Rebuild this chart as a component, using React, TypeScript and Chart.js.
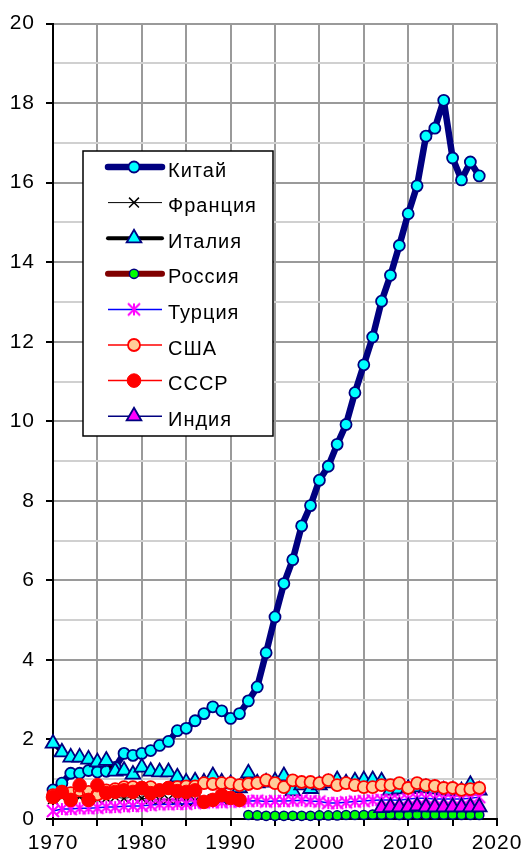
import React, { useEffect, useRef } from 'react';
import { Chart, registerables } from 'chart.js';

Chart.register(...registerables);

// ---- data ----
const chinaStart = 1970;
const chinaValues = [
  0.73, 0.9, 1.15, 1.15, 1.22, 1.18, 1.2, 1.3, 1.65, 1.6,
  1.65, 1.72, 1.85, 1.95, 2.22, 2.28, 2.47, 2.65, 2.82, 2.72,
  2.53, 2.65, 2.97, 3.32, 4.18, 5.08, 5.92, 6.52, 7.37, 7.88,
  8.52, 8.87, 9.42, 9.92, 10.72, 11.42, 12.12, 13.02, 13.67, 14.42,
  15.22, 15.92, 17.17, 17.37, 18.07, 16.62, 16.07, 16.52, 16.17,
];

const franceStart = 1970;
const franceValues = [
  0.5, 0.55, 0.5, 0.55, 0.52, 0.5, 0.52, 0.55, 0.52, 0.55,
  0.52, 0.5, 0.48, 0.5, 0.48, 0.45, 0.46, 0.48, 0.5, 0.5, 0.48,
];

const italyStart = 1970;
const italyValues = [
  1.9, 1.68, 1.55, 1.55, 1.5, 1.43, 1.47, 1.2, 1.22, 1.12,
  1.3, 1.2, 1.18, 1.18, 1.05, 0.92, 0.95, 0.92, 1.08, 0.92,
  0.88, 0.78, 1.15, 0.9, 0.92, 0.95, 1.08, 0.7, 0.85, 0.76,
  0.85, 0.9, 0.98, 0.9, 0.95, 0.98, 0.98, 0.95, 0.72, 0.75,
  0.76, 0.8, 0.78, 0.75, 0.72, 0.7, 0.7, 0.86, 0.72,
];

const russiaStart = 1992;
const russiaValues = [
  0.1, 0.09, 0.08, 0.08, 0.08, 0.08, 0.08, 0.08, 0.09, 0.09,
  0.09, 0.1, 0.1, 0.1, 0.11, 0.11, 0.11, 0.1, 0.1, 0.11,
  0.11, 0.11, 0.11, 0.11, 0.1, 0.1, 0.1,
];

const turkeyStart = 1970;
const turkeyValues = [
  0.2, 0.25, 0.25, 0.27, 0.27, 0.28, 0.3, 0.3, 0.32, 0.33,
  0.33, 0.35, 0.37, 0.37, 0.38, 0.38, 0.4, 0.42, 0.42, 0.42,
  0.44, 0.44, 0.45, 0.46, 0.44, 0.45, 0.45, 0.46, 0.47, 0.45,
  0.44, 0.4, 0.4, 0.42, 0.44, 0.45, 0.47, 0.48, 0.48, 0.47,
  0.5, 0.52, 0.52, 0.5, 0.5, 0.5, 0.5, 0.52, 0.55,
];

const usaStart = 1970;
const usaValues = [
  0.6, 0.68, 0.65, 0.72, 0.68, 0.62, 0.72, 0.75, 0.8, 0.8,
  0.78, 0.8, 0.72, 0.78, 0.8, 0.82, 0.82, 0.9, 0.88, 0.9,
  0.9, 0.85, 0.88, 0.9, 0.98, 0.9, 0.8, 0.97, 0.93, 0.93,
  0.9, 0.98, 0.85, 0.9, 0.85, 0.8, 0.8, 0.85, 0.85, 0.9,
  0.78, 0.9, 0.85, 0.83, 0.78, 0.78, 0.73, 0.75, 0.78,
];

const ussrStart = 1970;
const ussrValues = [
  0.55, 0.68, 0.48, 0.85, 0.48, 0.85, 0.65, 0.68, 0.72, 0.68,
  0.78, 0.65, 0.72, 0.78, 0.7, 0.68, 0.72, 0.43, 0.48, 0.6,
  0.53, 0.48,
];

const indiaStart = 2007;
const indiaValues = [0.28, 0.3, 0.3, 0.3, 0.32, 0.3, 0.3, 0.3, 0.3, 0.3, 0.3, 0.3];

const seriesNames = ['Китай', 'Франция', 'Италия', 'Россия', 'Турция', 'США', 'СССР', 'Индия'];

const xTickLabels = [1970, 1980, 1990, 2000, 2010, 2020];
const yTickLabels = [0, 2, 4, 6, 8, 10, 12, 14, 16, 18, 20];

const FONT = "'Liberation Sans', Arial, sans-serif";

function toPoints(start: number, values: number[]) {
  return values.map((v, i) => ({ x: start + i, y: v }));
}

// Excel-style asterisk: an X plus a vertical stroke
function makeAsterisk(r: number, color: string, lw: number) {
  const size = Math.ceil(r * 2 + lw * 2);
  const c = document.createElement('canvas');
  c.width = size;
  c.height = size;
  const g = c.getContext('2d') as CanvasRenderingContext2D;
  const m = size / 2;
  g.strokeStyle = color;
  g.lineWidth = lw;
  g.beginPath();
  g.moveTo(m - r, m - r);
  g.lineTo(m + r, m + r);
  g.moveTo(m + r, m - r);
  g.lineTo(m - r, m + r);
  g.moveTo(m, m - r);
  g.lineTo(m, m + r);
  g.stroke();
  return c;
}

function drawMarker(
  ctx: CanvasRenderingContext2D,
  style: any,
  x: number,
  y: number,
  r: number,
  fill: string,
  stroke: string,
  bw: number
) {
  ctx.save();
  if (typeof style !== 'string') {
    ctx.drawImage(style, x - style.width / 2, y - style.height / 2);
    ctx.restore();
    return;
  }
  ctx.fillStyle = fill;
  ctx.strokeStyle = stroke;
  ctx.lineWidth = bw;
  ctx.beginPath();
  if (style === 'circle') {
    ctx.arc(x, y, r, 0, Math.PI * 2);
    ctx.fill();
    ctx.stroke();
  } else if (style === 'triangle') {
    for (let k = 0; k < 3; k++) {
      const a = -Math.PI / 2 + (k * 2 * Math.PI) / 3;
      const px = x + Math.cos(a) * r;
      const py = y + Math.sin(a) * r;
      if (k === 0) ctx.moveTo(px, py);
      else ctx.lineTo(px, py);
    }
    ctx.closePath();
    ctx.fill();
    ctx.stroke();
  } else if (style === 'crossRot') {
    const d = r * Math.SQRT1_2;
    ctx.moveTo(x - d, y - d);
    ctx.lineTo(x + d, y + d);
    ctx.moveTo(x + d, y - d);
    ctx.lineTo(x - d, y + d);
    ctx.stroke();
  }
  ctx.restore();
}

const spacingPlugin = {
  id: 'letterSpacing',
  beforeDraw(chart: any) {
    (chart.ctx as any).letterSpacing = '1px';
  },
};

const legendPlugin = {
  id: 'boxLegend',
  afterDraw(chart: any) {
    const ctx: CanvasRenderingContext2D = chart.ctx;
    const left = 83;
    const top = 151;
    const w = 190;
    const h = 285;
    ctx.save();
    ctx.fillStyle = '#ffffff';
    ctx.fillRect(left, top, w, h);
    ctx.strokeStyle = '#000000';
    ctx.lineWidth = 1.5;
    ctx.strokeRect(left, top, w, h);
    chart.data.datasets.forEach((ds: any, i: number) => {
      const y = 167 + i * 35.6;
      ctx.save();
      ctx.strokeStyle = ds.borderColor;
      ctx.lineWidth = ds.borderWidth;
      ctx.lineCap = ds.borderWidth > 3 ? 'round' : 'butt';
      ctx.beginPath();
      ctx.moveTo(108, y);
      ctx.lineTo(162, y);
      ctx.stroke();
      ctx.restore();
      drawMarker(
        ctx,
        ds.pointStyle,
        134,
        y,
        ds.pointRadius,
        ds.pointBackgroundColor,
        ds.pointBorderColor,
        ds.pointBorderWidth
      );
      ctx.save();
      ctx.fillStyle = '#000000';
      ctx.font = `20px ${FONT}`;
      (ctx as any).letterSpacing = '1px';
      ctx.textAlign = 'left';
      ctx.textBaseline = 'middle';
      ctx.fillText(ds.label, 168, y + 4);
      ctx.restore();
    });
    ctx.restore();
  },
};

function makeDataset(
  label: string,
  data: { x: number; y: number }[],
  lineColor: string,
  lineWidth: number,
  style: any,
  radius: number,
  fill: string,
  stroke: string,
  bw: number,
  order: number
) {
  return {
    label,
    data,
    borderColor: lineColor,
    borderWidth: lineWidth,
    pointStyle: style,
    pointRadius: radius,
    pointBackgroundColor: fill,
    pointBorderColor: stroke,
    pointBorderWidth: bw,
    pointHoverRadius: radius,
    tension: 0,
    fill: false,
    clip: false,
    showLine: true,
    order,
    borderJoinStyle: 'round',
  };
}

export default function App() {
  const canvasRef = useRef<HTMLCanvasElement | null>(null);

  useEffect(() => {
    const canvas = canvasRef.current;
    if (!canvas) return;
    const asterisk = makeAsterisk(6, '#ff00ff', 2);
    const datasets = [
      makeDataset(seriesNames[0], toPoints(chinaStart, chinaValues), '#000080', 6.5, 'circle', 5.5, '#00ffff', '#000080', 1.8, 8),
      makeDataset(seriesNames[1], toPoints(franceStart, franceValues), '#000000', 1, 'crossRot', 7, '#000000', '#000000', 1.5, 7),
      makeDataset(seriesNames[2], toPoints(italyStart, italyValues), '#000000', 4, 'triangle', 8.5, '#00ffff', '#000080', 1.8, 6),
      makeDataset(seriesNames[3], toPoints(russiaStart, russiaValues), '#800000', 6, 'circle', 4.6, '#00ff00', '#000080', 1.5, 5),
      makeDataset(seriesNames[4], toPoints(turkeyStart, turkeyValues), '#0000ff', 1.5, asterisk, 6, '#ff00ff', '#ff00ff', 2, 4),
      makeDataset(seriesNames[5], toPoints(usaStart, usaValues), '#ff0000', 1.5, 'circle', 6, '#ffcc99', '#ff0000', 1.8, 3),
      makeDataset(seriesNames[6], toPoints(ussrStart, ussrValues), '#ff0000', 1.5, 'circle', 6.8, '#ff0000', '#ff0000', 1, 2),
      makeDataset(seriesNames[7], toPoints(indiaStart, indiaValues), '#000080', 1.5, 'triangle', 8.5, '#ff00ff', '#000080', 1.8, 1),
    ];

    const chart = new Chart(canvas, {
      type: 'line',
      data: { datasets } as any,
      options: {
        responsive: false,
        animation: false,
        devicePixelRatio: 1,
        layout: { padding: { top: 21, right: 29, left: 0, bottom: 0 } },
        plugins: { legend: { display: false }, tooltip: { enabled: false } },
        events: [],
        scales: {
          x: {
            type: 'linear',
            min: xTickLabels[0],
            max: xTickLabels[xTickLabels.length - 1],
            afterFit: (scale: any) => {
              scale.height = 37;
            },
            ticks: {
              stepSize: 5,
              autoSkip: false,
              maxRotation: 0,
              padding: 5,
              color: '#000000',
              font: { size: 21, family: FONT },
              callback: (v: any) => (xTickLabels.includes(Number(v)) ? String(v) : ''),
            },
            grid: {
              color: '#9a9a9a',
              lineWidth: 2,
              tickLength: 7,
              tickColor: '#000000',
            },
            border: { color: '#000000', width: 2 },
          },
          y: {
            type: 'linear',
            min: yTickLabels[0],
            max: yTickLabels[yTickLabels.length - 1],
            afterFit: (scale: any) => {
              scale.width = 53;
            },
            ticks: {
              stepSize: 1,
              autoSkip: false,
              padding: 11,
              color: '#000000',
              font: { size: 21, family: FONT },
              callback: (v: any) => (yTickLabels.includes(Number(v)) ? String(v) : ''),
            },
            grid: {
              color: (c: any) => (yTickLabels.includes(c.tick?.value) ? '#9a9a9a' : '#d0d0d0'),
              lineWidth: 2,
              tickLength: 7,
              tickColor: (c: any) => (yTickLabels.includes(c.tick?.value) ? '#000000' : 'rgba(0,0,0,0)'),
            },
            border: { color: '#000000', width: 2 },
          },
        },
      } as any,
      plugins: [spacingPlugin, legendPlugin],
    });

    return () => {
      chart.destroy();
    };
  }, []);

  return (
    <div style={{ position: 'absolute', left: 0, top: 0, width: 526, height: 856, background: '#ffffff' }}>
      <canvas ref={canvasRef} width={526} height={856} style={{ display: 'block', width: 526, height: 856 }} />
    </div>
  );
}
